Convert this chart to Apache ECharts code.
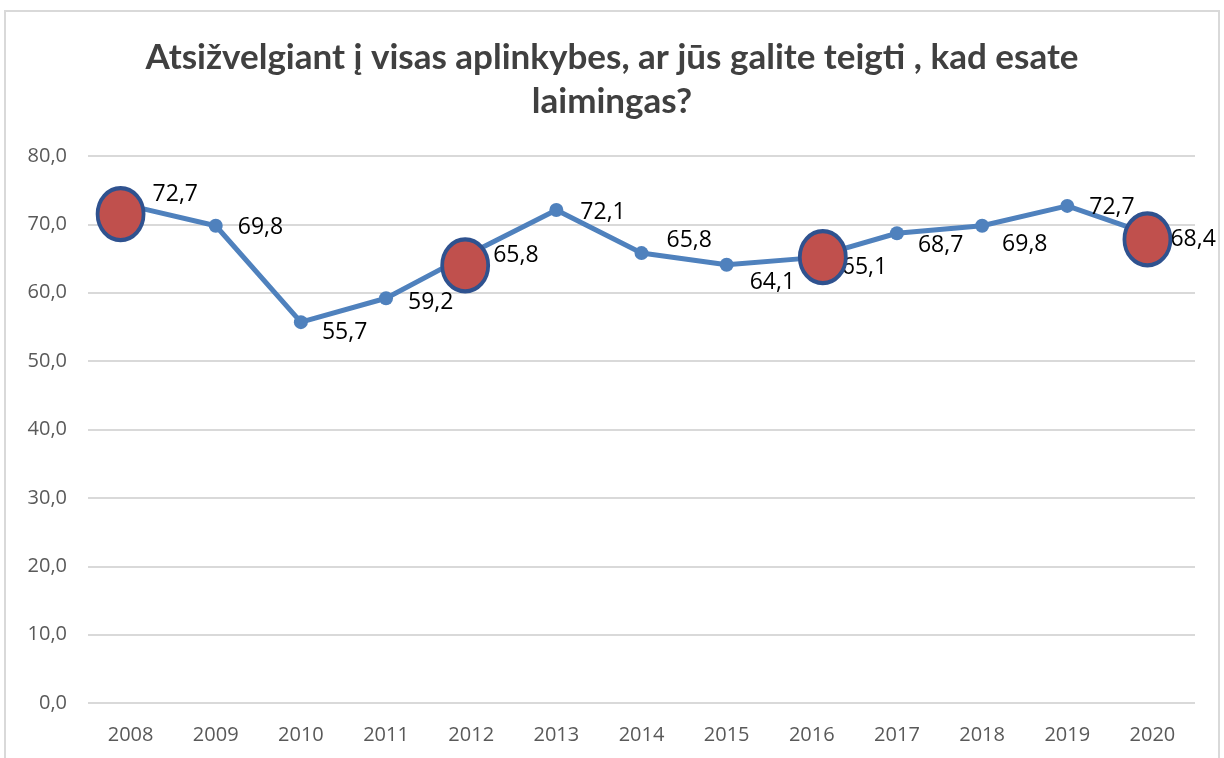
<!DOCTYPE html>
<html lang="lt">
<head>
    <meta charset="UTF-8">
    <title>Laimingas</title>
    <script src="https://cdn.jsdelivr.net/npm/echarts@6/dist/echarts.min.js"></script>
    <style>
        body { margin: 0; background: #fff; }
    </style>
</head>
<body>
    <div id="main" style="width: 1224px;height:758px;"></div>
    <script type="text/javascript">
        // chart data
        const years = ['2008', '2009', '2010', '2011', '2012', '2013', '2014', '2015', '2016', '2017', '2018', '2019', '2020'];
        const happyValues = [72.7, 69.8, 55.7, 59.2, 65.8, 72.1, 65.8, 64.1, 65.1, 68.7, 69.8, 72.7, 68.4];
        // red circles drawn over some years
        const markedValues = [71.5, null, null, null, 64.0, null, null, null, 65.2, null, null, null, 67.8];
        const yTicks = [0, 10, 20, 30, 40, 50, 60, 70, 80];

        // label placement next to each point: [dx, dy]
        const labelShift = [[15, -11], [15, 2], [14, 10], [15, 4], [15, 2], [17, 2], [18, -13], [16, 18], [23, 10], [14, 12], [13, 19], [15, 2], [11, 4]];
        const circleShift = [-10, 0, 0, 0, -6, 0, 0, 0, 11, 0, 0, 0, -5];

        const fmt = v => v.toFixed(1).replace('.', ',');

        let myChart = echarts.init(document.getElementById('main'));

        let options = {
            animation: false,
            backgroundColor: '#fff',
            title: {
                text: 'Atsižvelgiant į visas aplinkybes, ar jūs galite teigti , kad esate\nlaimingas?',
                left: 'center',
                top: 31,
                textStyle: {
                    fontFamily: 'Lato',
                    fontWeight: 'bold',
                    fontSize: 35,
                    lineHeight: 44,
                    color: '#404040'
                }
            },
            graphic: [{
                type: 'rect',
                shape: { x: 5, y: 11, width: 1214, height: 760 },
                style: { fill: 'none', stroke: '#d9d9d9', lineWidth: 2 },
                silent: true
            }],
            grid: { left: 88, right: 29, top: 156, bottom: 55 },
            xAxis: {
                type: 'category',
                data: years,
                boundaryGap: true,
                axisLine: { show: false },
                axisTick: { show: false },
                axisLabel: {
                    fontFamily: 'Open Sans',
                    fontSize: 20,
                    color: '#595959',
                    margin: 22
                }
            },
            yAxis: {
                type: 'value',
                min: yTicks[0],
                max: yTicks[yTicks.length - 1],
                interval: 10,
                axisLine: { show: false },
                axisTick: { show: false },
                axisLabel: {
                    fontFamily: 'Open Sans',
                    fontSize: 20,
                    color: '#595959',
                    margin: 21,
                    formatter: v => fmt(v)
                },
                splitLine: { lineStyle: { color: '#d9d9d9', width: 2 } }
            },
            series: [{
                name: 'Laimingi',
                type: 'line',
                z: 2,
                data: happyValues.map((v, i) => ({
                    value: v,
                    label: { offset: labelShift[i] }
                })),
                symbol: 'circle',
                symbolSize: 14,
                lineStyle: { color: '#4f81bd', width: 5 },
                itemStyle: { color: '#4f81bd' },
                label: {
                    show: true,
                    position: 'right',
                    distance: 0,
                    fontFamily: 'Open Sans',
                    fontSize: 23,
                    color: '#000',
                    formatter: p => fmt(p.value)
                }
            }, {
                name: 'Pažymėti',
                type: 'line',
                z: 5,
                data: markedValues.map((v, i) => (v === null ? null : {
                    value: v,
                    symbolOffset: [circleShift[i], 0]
                })),
                connectNulls: false,
                lineStyle: { opacity: 0 },
                symbol: 'circle',
                symbolSize: [46, 52],
                showSymbol: true,
                itemStyle: {
                    color: '#c0504d',
                    borderColor: '#2f528f',
                    borderWidth: 4
                },
                label: { show: false }
            }]
        };

        myChart.setOption(options);
    </script>
</body>
</html>
